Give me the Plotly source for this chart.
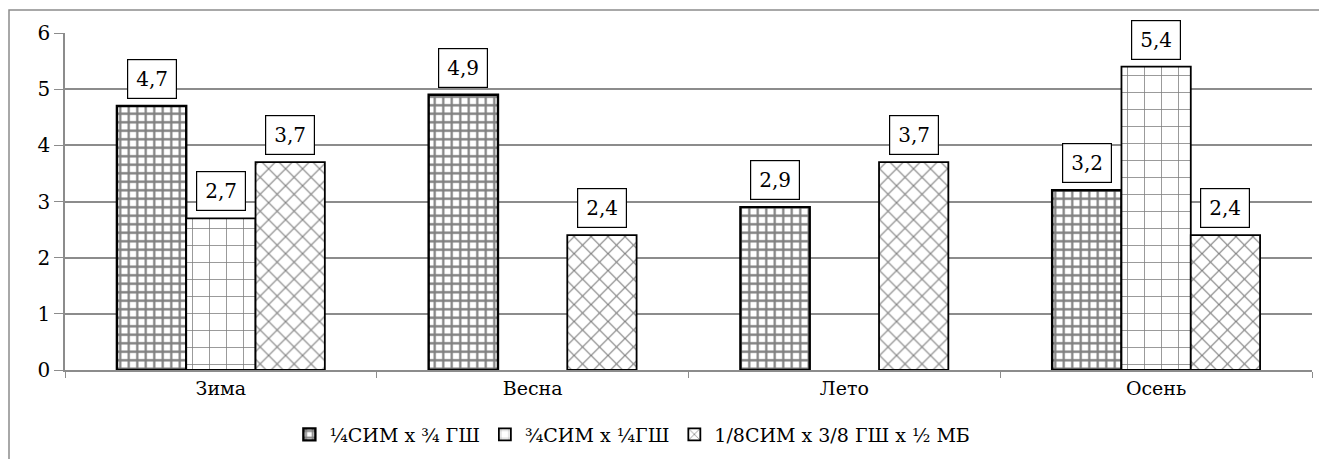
import plotly.graph_objects as go

# Seasons and the three crossbreed groups
seasons = ["Зима", "Весна", "Лето", "Осень"]
series_names = ["¼СИМ х ¾ ГШ", "¾СИМ х ¼ГШ", "1/8СИМ х 3/8 ГШ х ½ МБ"]
values_a = [4.7, 4.9, 2.9, 3.2]
values_b = [2.7, None, None, 5.4]
values_c = [3.7, 2.4, 3.7, 2.4]
y_ticks = [0, 1, 2, 3, 4, 5, 6]

FONT = "DejaVu Serif"
W, H = 1319, 459
ML, MR, MT, MB = 65, 7, 33, 89
BARGAP = 0.333

patterns = [
    dict(shape="+", size=8.5, solidity=0.45, fgcolor="black", bgcolor="white"),
    dict(shape="+", size=17, solidity=0.09, fgcolor="black", bgcolor="white"),
    dict(shape="x", size=12, solidity=0.18, fgcolor="black", bgcolor="white"),
]
outline = [2.4, 1.8, 1.8]

fig = go.Figure()
all_series = [values_a, values_b, values_c]
for name, vals, pat, lw in zip(series_names, all_series, patterns, outline):
    fig.add_trace(go.Bar(
        x=seasons, y=vals, name=name,
        marker=dict(color="white", pattern=pat, line=dict(color="black", width=lw)),
    ))

# Boxed value labels above each bar
bw = (1 - BARGAP) / 3
for k, vals in enumerate(all_series):
    for i, v in enumerate(vals):
        if v is None:
            continue
        fig.add_annotation(
            x=i + (k - 1) * bw, y=v, xref="x", yref="y",
            text=f"{v:.1f}".replace(".", ","),
            showarrow=False, yanchor="bottom", yshift=7,
            font=dict(family=FONT, size=20, color="black"),
            bgcolor="white", bordercolor="black", borderwidth=1.2,
            borderpad=5, width=38, height=28,
        )

# Chart-area frame
pw, ph = W - ML - MR, H - MT - MB
fig.add_shape(
    type="rect", xref="paper", yref="paper",
    x0=(9 - ML) / pw, x1=(W + 10 - ML) / pw,
    y0=-(H + 10 - MT - ph) / ph, y1=1 + (MT - 10) / ph,
    line=dict(color="#8c8c8c", width=1.5), fillcolor="rgba(0,0,0,0)",
    layer="below",
)

fig.update_layout(
    width=W, height=H,
    margin=dict(l=ML, r=MR, t=MT, b=MB, autoexpand=False),
    paper_bgcolor="white", plot_bgcolor="white",
    barmode="group", bargap=BARGAP, bargroupgap=0,
    font=dict(family=FONT, size=19, color="black"),
    showlegend=True,
    legend=dict(
        orientation="h", x=0.455, xanchor="center", y=-0.135, yanchor="top",
        font=dict(family=FONT, size=19, color="black"),
        itemwidth=30, tracegroupgap=0,
    ),
    xaxis=dict(
        showgrid=False, showline=True, linecolor="#8c8c8c", linewidth=1.5,
        ticks="outside", tickson="boundaries", ticklen=6, tickcolor="#8c8c8c",
        tickfont=dict(family=FONT, size=19), zeroline=False,
    ),
    yaxis=dict(
        range=[0, 6], tickvals=y_ticks,
        showgrid=True, gridcolor="#8c8c8c", gridwidth=1.5,
        showline=True, linecolor="#8c8c8c", linewidth=1.5,
        ticks="outside", ticklen=9, tickcolor="#8c8c8c",
        tickfont=dict(family=FONT, size=20), zeroline=False,
    ),
)

fig.write_html("out.html")
